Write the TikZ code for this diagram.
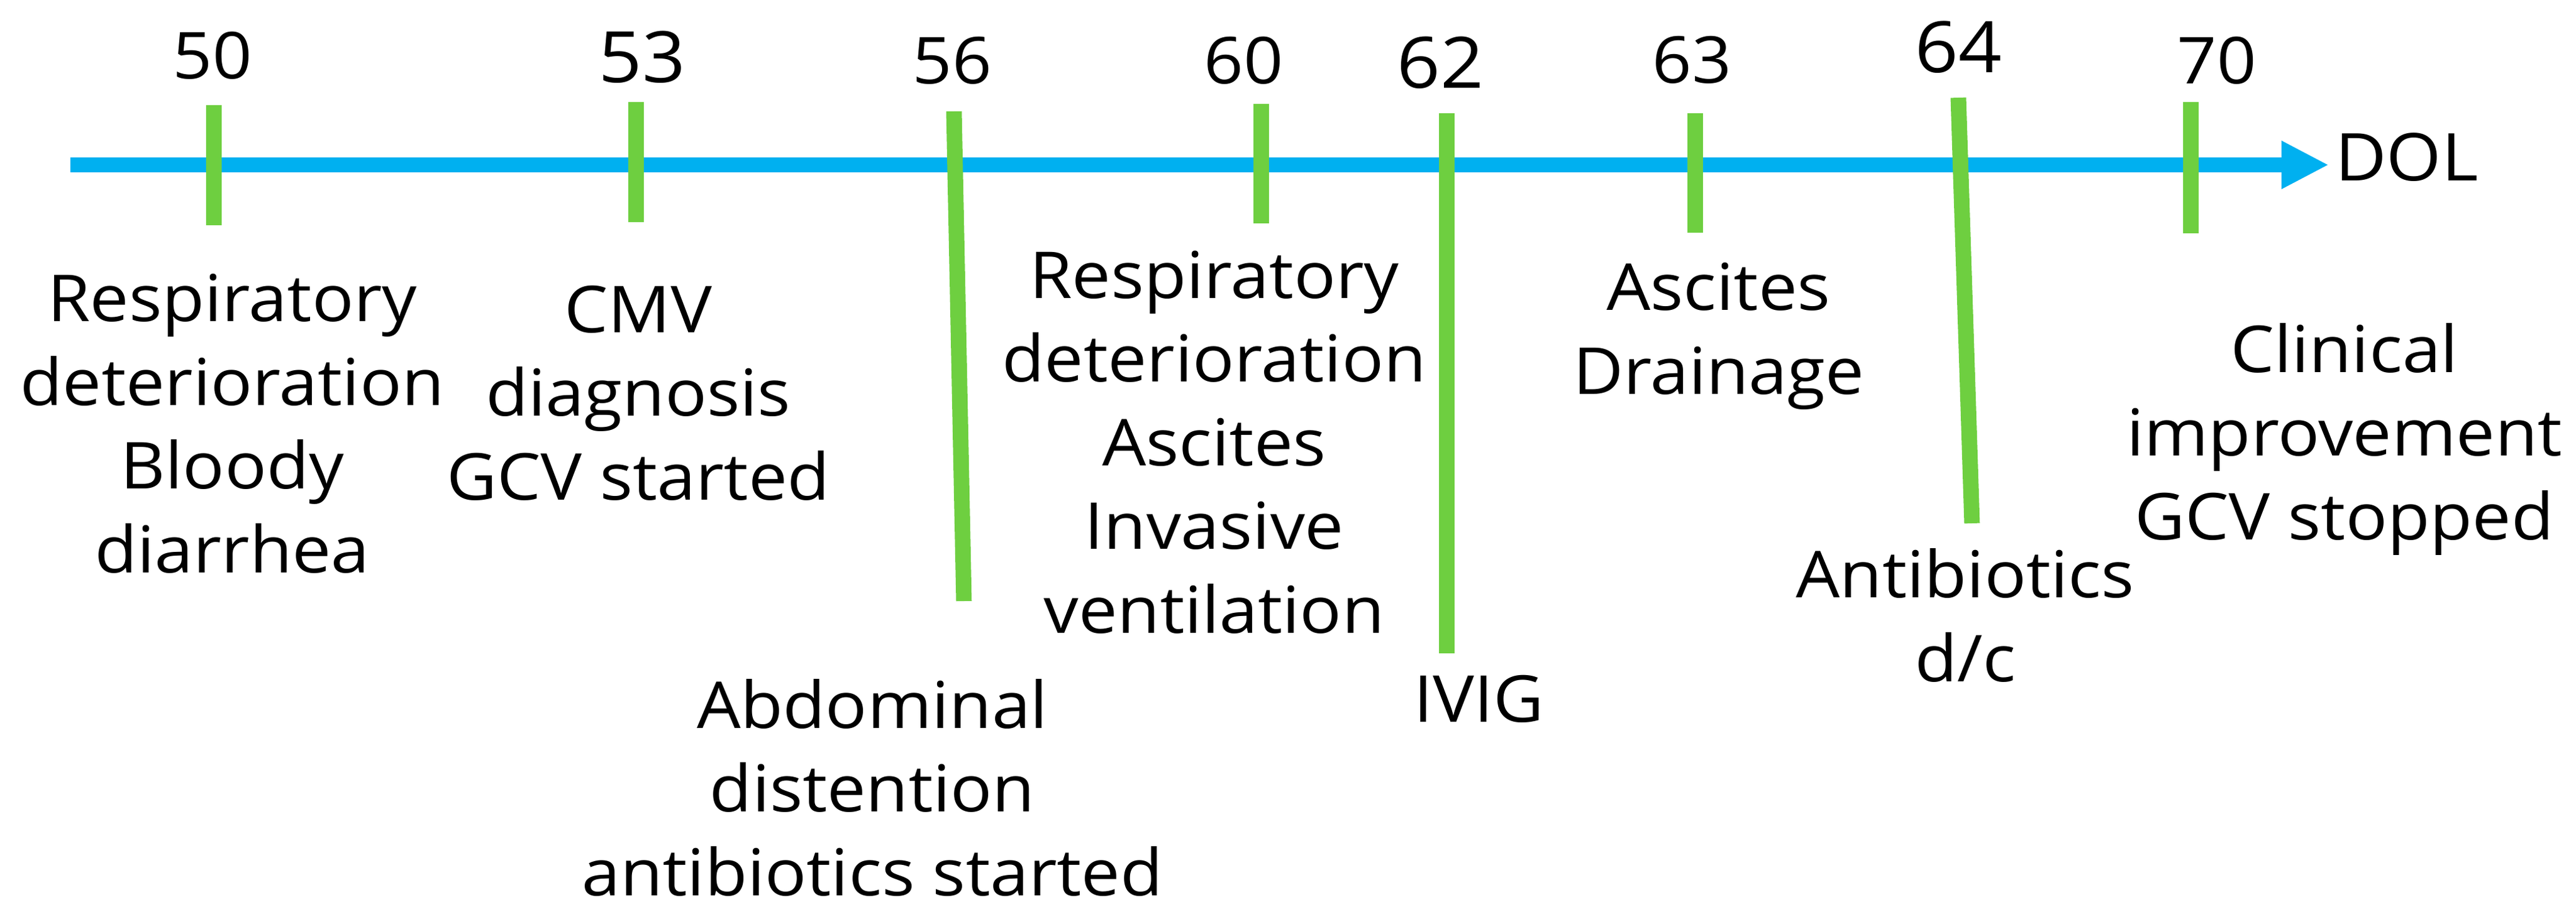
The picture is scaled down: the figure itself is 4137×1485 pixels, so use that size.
\documentclass[tikz,border=0pt]{standalone}
\usepackage{fontspec}
\setmainfont{Open Sans}
\newfontfamily\evfont[FakeStretch=1.07]{Open Sans}
\usetikzlibrary{arrows.meta}
\definecolor{axisblue}{RGB}{0,176,240}
\definecolor{tickgreen}{RGB}{110,207,64}
\tikzset{
  axisline/.style={draw=axisblue, line width=24pt, -{Triangle[length=76pt,width=72pt]}},
  tickline/.style={draw=tickgreen, line width=25pt},
  daylbl/.style={anchor=base, inner sep=0pt, font=\evfont\fontsize{104}{130}\selectfont},
  biglbl/.style={anchor=base, inner sep=0pt, font=\evfont\fontsize{114}{130}\selectfont},
  evtxt/.style={anchor=base, inner sep=0pt, align=center, font=\evfont\fontsize{104}{134.5}\selectfont},
}
\begin{document}
\begin{tikzpicture}[x=1pt, y=-1pt]
\useasboundingbox (0,0) rectangle (4137,1485);
% axis
\coordinate (axS) at (113,265);
\coordinate (axE) at (3740,265);
\draw[axisline] (axS) -- (axE);
\node[anchor=base west, inner sep=0pt, font=\evfont\fontsize{106}{130}\selectfont] (dol) at (3750,290) {DOL};
% ticks
\coordinate (a50) at (343,169);  \coordinate (b50) at (343,362);
\coordinate (a53) at (1021,164); \coordinate (b53) at (1021,357);
\coordinate (a56) at (1532,179); \coordinate (b56) at (1548,966);
\coordinate (a60) at (2025,167); \coordinate (b60) at (2025,359);
\coordinate (a62) at (2323,182); \coordinate (b62) at (2323,1050);
\coordinate (a63) at (2722,182); \coordinate (b63) at (2722,374);
\coordinate (a64) at (3145,157); \coordinate (b64) at (3167,841);
\coordinate (a70) at (3518,164); \coordinate (b70) at (3518,375);
\foreach \d in {50,53,56,60,62,63,64,70}{\draw[tickline] (a\d) -- (b\d);}
% day labels
\node[daylbl] (d50) at (341,127) {50};
\node[biglbl] (d53) at (1031,132) {53};
\node[daylbl] (d56) at (1529,135) {56};
\node[daylbl] (d60) at (1997,135) {60};
\node[biglbl] (d62) at (2313,142) {62};
\node[daylbl] (d63) at (2717,133) {63};
\node[biglbl] (d64) at (3145,117) {64};
\node[daylbl] (d70) at (3560,135) {70};
% events (anchored at the baseline of the last line)
\node[evtxt] (e50) at (373,920) {Respiratory\\deterioration\\Bloody\\diarrhea};
\node[evtxt] (e53) at (1025,803) {CMV\\diagnosis\\GCV started};
\node[evtxt] (e56) at (1401,1439) {Abdominal\\distention\\antibiotics started};
\node[evtxt] (e60) at (1950,1017) {Respiratory\\deterioration\\Ascites\\Invasive\\ventilation};
\node[evtxt] (e62) at (2375,1160) {IVIG};
\node[evtxt] (e63) at (2760,633) {Ascites\\Drainage};
\node[evtxt] (e64) at (3156,1095) {Antibiotics\\d/c};
\node[evtxt] (e70) at (3765,867) {Clinical\\improvement\\GCV stopped};
\end{tikzpicture}
\end{document}
